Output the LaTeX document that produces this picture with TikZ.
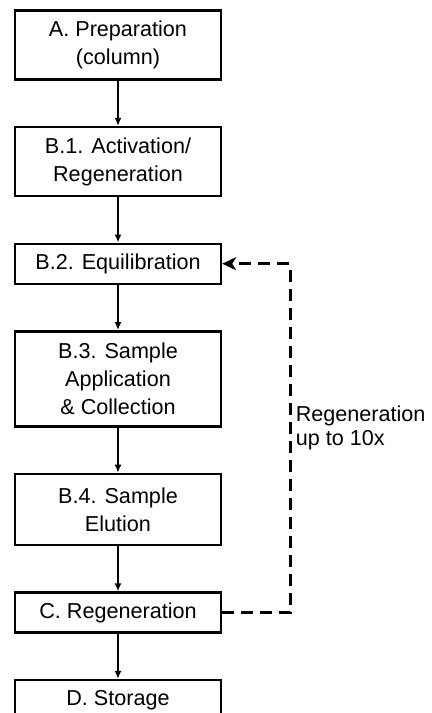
\documentclass[tikz,border=0pt]{standalone}
\usepackage{fontspec}
\setmainfont{Liberation Sans}
\usetikzlibrary{positioning, arrows.meta}

\begin{document}
\begin{tikzpicture}[
    stage/.style={draw, line width=1.2pt, minimum width=103pt, minimum height=20pt,
                  align=center, inner sep=2pt, font=\fontsize{10.8}{14}\selectfont},
    twoline/.style={stage, minimum height=34.5pt},
    threeline/.style={stage, minimum height=47.5pt},
    ar/.style={-{Latex[length=4pt, width=3.5pt]}, line width=1pt},
    back/.style={-{Stealth[length=7pt, width=6.5pt, inset=2pt]}, line width=1.6pt,
                 dash pattern=on 6pt off 3.5pt},
    note/.style={align=left, font=\fontsize{10.8}{12}\selectfont, inner sep=1pt},
    node distance=22.6pt,
  ]
  \useasboundingbox (0,0) rectangle (216pt,-356.5pt);

  % ---- column workflow
  \node[twoline] (prep) at (59pt,-22.5pt) {A. Preparation\\(column)};
  \node[twoline, below=of prep] (act) {B.1. Activation/\\Regeneration};
  \node[stage, below=of act] (equi) {B.2. Equilibration};
  \node[threeline, below=of equi] (appl) {B.3. Sample\\Application\\\& Collection};
  \node[twoline, below=of appl, minimum height=35.5pt] (elu) {B.4. Sample\\Elution};
  \node[stage, below=of elu] (regen) {C. Regeneration};
  \node[stage, below=of regen] (stor) {D. Storage};

  \draw[ar] (prep) -- (act);
  \draw[ar] (act) -- (equi);
  \draw[ar] (equi) -- (appl);
  \draw[ar] (appl) -- (elu);
  \draw[ar] (elu) -- (regen);
  \draw[ar] (regen) -- (stor);

  % ---- regeneration loop
  \draw[back] (regen.east) -- ++(34pt,0) |-
    node[note, pos=0.25, right=1pt, yshift=5pt] {Regeneration\\up to 10x} (equi.east);
\end{tikzpicture}
\end{document}
